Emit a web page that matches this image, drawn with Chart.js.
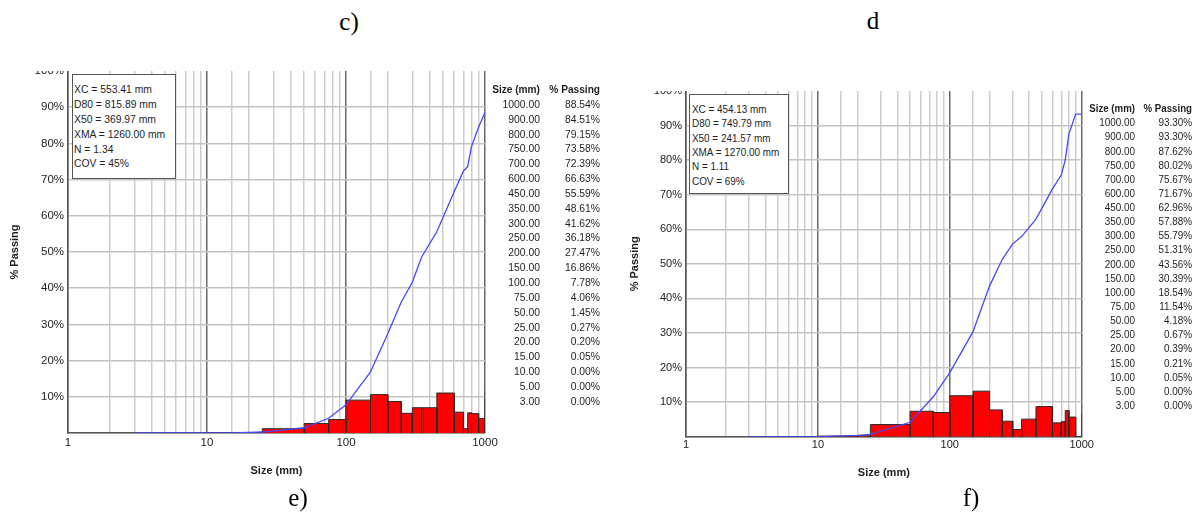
<!DOCTYPE html>
<html>
<head>
<meta charset="utf-8">
<script src="https://cdn.jsdelivr.net/npm/chart.js@4.4.1/dist/chart.umd.min.js"></script>
<style>
  html, body { margin: 0; padding: 0; background: #fff; }
  #page { position: relative; width: 1196px; height: 515px; overflow: hidden; background: #fff; }
  canvas { position: absolute; }
  .cap { position: absolute; font-family: "Liberation Serif", "Times New Roman", serif; font-size: 25px; color: #000; line-height: 28px; }
  .txt { position: absolute; font-family: "Liberation Sans", Arial, sans-serif; color: #1e1e1e; white-space: nowrap; }
  .box { position: absolute; background: #fff; border: 1.5px solid #555; box-sizing: border-box; }
</style>
</head>
<body>
<div id="page">
  <canvas id="chartE" width="500" height="419" style="left:0px; top:71px;"></canvas>
  <canvas id="chartF" width="475" height="404" style="left:620px; top:91px;"></canvas>
</div>
<script>
// Screen sizes (mm) and cumulative % passing, as listed beside each chart
const sizesE   = [1000, 900, 800, 750, 700, 600, 450, 350, 300, 250, 200, 150, 100, 75, 50, 25, 20, 15, 10, 5, 3];
const passingE = [88.54, 84.51, 79.15, 73.58, 72.39, 66.63, 55.59, 48.61, 41.62, 36.18, 27.47, 16.86, 7.78, 4.06, 1.45, 0.27, 0.20, 0.05, 0.00, 0.00, 0.00];

const sizesF   = [1000, 900, 800, 750, 700, 600, 450, 350, 300, 250, 200, 150, 100, 75, 50, 25, 20, 15, 10, 5, 3];
const passingF = [93.30, 93.30, 87.62, 80.02, 75.67, 71.67, 62.96, 57.88, 55.79, 51.31, 43.56, 30.39, 18.54, 11.54, 4.18, 0.67, 0.39, 0.21, 0.05, 0.00, 0.00];

// Size-class edges (mm) for the histogram, the last edge being XMA
const edgesE = [3, 5, 10, 15, 20, 25, 50, 75, 100, 150, 200, 250, 300, 350, 450, 600, 700, 750, 800, 900, 1000, 1260];
const edgesF = [3, 5, 10, 15, 20, 25, 50, 75, 100, 150, 200, 250, 300, 350, 450, 600, 700, 750, 800, 900, 1000, 1270];

// % retained in each size class
const retainedE = [0.00, 0.00, 0.05, 0.15, 0.07, 1.18, 2.61, 3.72, 9.08, 10.61, 8.71, 5.44, 6.99, 6.98, 11.04, 5.76, 1.19, 5.57, 5.36, 4.03, 11.46];
const retainedF = [0.00, 0.05, 0.16, 0.18, 0.28, 3.51, 7.36, 7.00, 11.85, 13.17, 7.75, 4.48, 2.09, 5.08, 8.71, 4.00, 4.35, 7.60, 5.68, 0.00, 6.70];

// Fragmentation statistics
const statsE = ["XC = 553.41 mm", "D80 = 815.89 mm", "X50 = 369.97 mm", "XMA = 1260.00 mm", "N = 1.34", "COV = 45%"];
const statsF = ["XC = 454.13 mm", "D80 = 749.79 mm", "X50 = 241.57 mm", "XMA = 1270.00 mm", "N = 1.11", "COV = 69%"];

// Axis ticks
const yTicks = [0, 10, 20, 30, 40, 50, 60, 70, 80, 90, 100];
const xMin = 1, xMax = 1000;

const FONT = "Liberation Sans, Arial, sans-serif";
const page = document.getElementById('page');

function isDecade(v) {
  const l = Math.log10(v);
  return Math.abs(l - Math.round(l)) < 1e-9;
}

function addText(text, xRight, yCenter, size, lineH, opts) {
  const d = document.createElement('div');
  d.className = 'txt';
  d.textContent = text;
  d.style.fontSize = size + 'px';
  d.style.lineHeight = lineH + 'px';
  d.style.width = '200px';
  d.style.left = (xRight - 200) + 'px';
  d.style.top = (yCenter - lineH / 2) + 'px';
  d.style.textAlign = 'right';
  d.style.transform = 'scaleX(' + (opts.sx || 1) + ')';
  d.style.transformOrigin = 'right center';
  if (opts.bold) d.style.fontWeight = 'bold';
  page.appendChild(d);
}

function addCaption(text, cx, cy) {
  const d = document.createElement('div');
  d.className = 'cap';
  d.textContent = text;
  d.style.left = (cx - 50) + 'px';
  d.style.width = '100px';
  d.style.textAlign = 'center';
  d.style.top = (cy - 14) + 'px';
  page.appendChild(d);
}

function addStatBox(lines, left, top, width, height, firstY, step, size) {
  const b = document.createElement('div');
  b.className = 'box';
  b.style.left = left + 'px';
  b.style.top = top + 'px';
  b.style.width = width + 'px';
  b.style.height = height + 'px';
  page.appendChild(b);
  lines.forEach((t, i) => {
    const d = document.createElement('div');
    d.className = 'txt';
    d.textContent = t;
    d.style.fontSize = size + 'px';
    d.style.lineHeight = '14px';
    d.style.left = (left + 2.5) + 'px';
    d.style.top = (firstY + i * step - 7) + 'px';
    d.style.transform = 'scaleX(0.9)';
    d.style.transformOrigin = 'left center';
    page.appendChild(d);
  });
}

function addTable(sizes, passing, sizeRight, passRight, headY, firstY, step, size) {
  addText('Size (mm)', sizeRight, headY, size, 14, { bold: true, sx: 0.88 });
  addText('% Passing', passRight, headY, size, 14, { bold: true, sx: 0.88 });
  sizes.forEach((s, i) => {
    addText(s.toFixed(2), sizeRight, firstY + i * step, size, 14, { sx: 0.9 });
    addText(passing[i].toFixed(2) + '%', passRight, firstY + i * step, size, 14, { sx: 0.9 });
  });
}

function buildChart(id, g) {
  const curve = g.sizes.map((s, i) => ({ x: s, y: g.passing[i] })).sort((a, b) => a.x - b.x);
  const datasets = [{
    data: curve,
    showLine: true,
    borderColor: '#4848f4',
    borderWidth: 1.3,
    pointRadius: 0,
    tension: 0,
    fill: false
  }];
  g.retained.forEach((r, i) => {
    const lo = g.edges[i], hi = g.edges[i + 1];
    datasets.push({
      data: [{ x: lo, y: 0 }, { x: lo, y: r }, { x: hi, y: r }, { x: hi, y: 0 }],
      showLine: true,
      borderColor: '#2a2a2a',
      borderWidth: 1,
      backgroundColor: '#ff0000',
      pointRadius: 0,
      tension: 0,
      fill: 'origin'
    });
  });

  return new Chart(document.getElementById(id), {
    type: 'scatter',
    data: { datasets },
    options: {
      responsive: false,
      devicePixelRatio: 1,
      animation: false,
      events: [],
      layout: { padding: { left: 0, top: 0, right: g.padRight, bottom: 0 } },
      plugins: { legend: { display: false }, tooltip: { enabled: false } },
      scales: {
        x: {
          type: 'logarithmic',
          min: xMin,
          max: xMax,
          border: { color: '#555', width: 1.5 },
          grid: {
            drawTicks: false,
            color: (c) => (c.tick && isDecade(c.tick.value)) ? '#696969' : '#cdcdcd',
            lineWidth: 1.5
          },
          ticks: {
            autoSkip: false,
            maxRotation: 0,
            padding: g.xTickPad,
            color: '#222',
            font: { family: FONT, size: g.tickSize },
            callback: (v) => isDecade(v) ? String(Math.round(v)) : ''
          },
          title: {
            display: true,
            text: 'Size (mm)',
            color: '#1e1e1e',
            font: { family: FONT, size: 11, weight: 'bold' },
            padding: { top: 0, bottom: g.xTitlePad }
          },
          afterFit: (s) => { s.height = g.xHeight; s.paddingLeft = 0; s.paddingRight = 0; }
        },
        y: {
          type: 'linear',
          min: 0,
          max: 100,
          border: { color: '#555', width: 1.5 },
          grid: {
            drawTicks: false,
            color: (c) => (c.tick && c.tick.value === 100) ? 'rgba(0,0,0,0)' : '#c3c3c3',
            lineWidth: 1.5
          },
          afterBuildTicks: (s) => { s.ticks = yTicks.map(v => ({ value: v })); },
          ticks: {
            padding: 4,
            color: '#222',
            font: { family: FONT, size: g.tickSize },
            callback: (v) => v === 0 ? '' : v + '%'
          },
          title: {
            display: true,
            text: '% Passing',
            color: '#1e1e1e',
            font: { family: FONT, size: 11, weight: 'bold' },
            padding: { top: 8.4, bottom: 0 }
          },
          afterFit: (s) => { s.width = g.yWidth; s.paddingTop = 0; s.paddingBottom = 0; }
        }
      }
    }
  });
}

// Left chart (e)
buildChart('chartE', {
  sizes: sizesE, passing: passingE, edges: edgesE, retained: retainedE,
  padRight: 15, yWidth: 68, xHeight: 57, xTickPad: 3, xTitlePad: 12.4, tickSize: 11.5
});
addStatBox(statsE, 71.5, 74, 104.5, 105, 89.3, 14.8, 11.5);
addTable(sizesE, passingE, 539.5, 599.5, 89.3, 103.8, 14.85, 11.5);

// Right chart (f)
buildChart('chartF', {
  sizes: sizesF, passing: passingF, edges: edgesF, retained: retainedF,
  padRight: 13.3, yWidth: 66, xHeight: 58.3, xTickPad: 1.5, xTitlePad: 15.7, tickSize: 11
});
addStatBox(statsF, 689, 94, 99.5, 100, 109, 14.3, 11);
addTable(sizesF, passingF, 1134.5, 1191.5, 108.3, 122.3, 14.13, 11);

// Panel captions
addCaption('c)', 349, 22);
addCaption('d', 873, 21);
addCaption('e)', 298, 498);
addCaption('f)', 971, 498);
</script>
</body>
</html>
